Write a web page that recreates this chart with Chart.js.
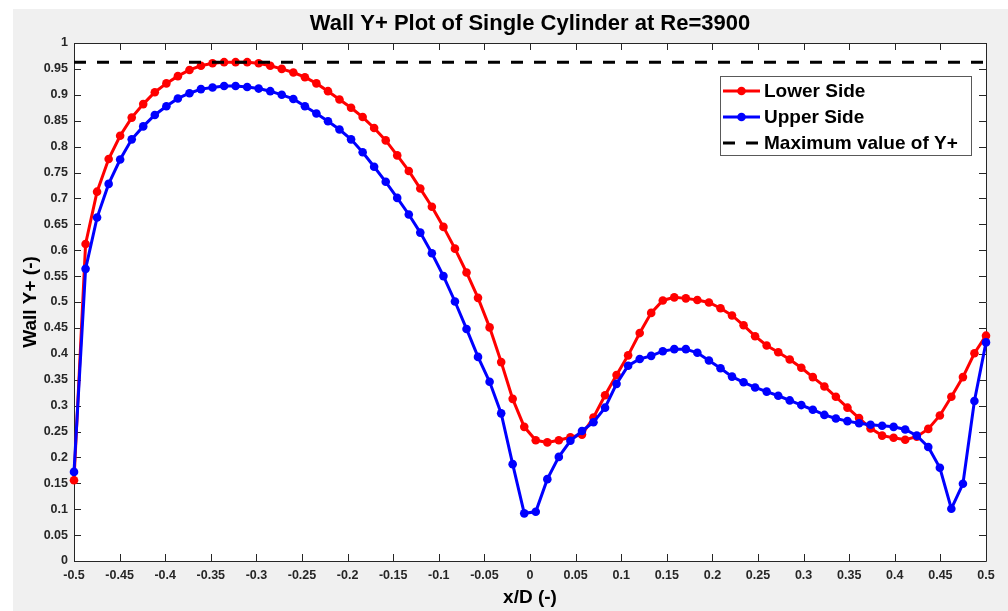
<!DOCTYPE html>
<html lang="en">
<head>
    <meta charset="UTF-8">
    <title>Wall Y+ Plot of Single Cylinder</title>
    <script src="https://cdn.jsdelivr.net/npm/chart.js"></script>
    <style>
        body {
            margin: 0;
            background: #ffffff;
        }

        .figure {
            position: absolute;
            left: 13px;
            top: 9px;
            width: 995px;
            height: 602px;
            background: #f0f0f0;
        }
    </style>
</head>
<body>
    <div class="figure">
        <canvas id="wallChart" width="995" height="602"></canvas>
    </div>
    <script>
        // x/D positions of the wall cells (80 points)
        const xOverD = [
            -0.5, -0.4873, -0.4747, -0.4620, -0.4494, -0.4367, -0.4241, -0.4114, -0.3987, -0.3861,
            -0.3734, -0.3608, -0.3481, -0.3354, -0.3228, -0.3101, -0.2975, -0.2848, -0.2722, -0.2595,
            -0.2468, -0.2342, -0.2215, -0.2089, -0.1962, -0.1835, -0.1709, -0.1582, -0.1456, -0.1329,
            -0.1203, -0.1076, -0.0949, -0.0823, -0.0696, -0.0570, -0.0443, -0.0316, -0.0190, -0.0063,
            0.0063, 0.0190, 0.0316, 0.0443, 0.0570, 0.0696, 0.0823, 0.0949, 0.1076, 0.1203,
            0.1329, 0.1456, 0.1582, 0.1709, 0.1835, 0.1962, 0.2089, 0.2215, 0.2342, 0.2468,
            0.2595, 0.2722, 0.2848, 0.2975, 0.3101, 0.3228, 0.3354, 0.3481, 0.3608, 0.3734,
            0.3861, 0.3987, 0.4114, 0.4241, 0.4367, 0.4494, 0.4620, 0.4747, 0.4873, 0.5
        ];

        const lowerSide = [
            0.156, 0.612, 0.713, 0.776, 0.821, 0.856, 0.882, 0.905, 0.922, 0.936,
            0.948, 0.956, 0.961, 0.963, 0.963, 0.963, 0.961, 0.956, 0.950, 0.943,
            0.934, 0.922, 0.907, 0.891, 0.875, 0.857, 0.836, 0.812, 0.783, 0.753,
            0.719, 0.684, 0.645, 0.603, 0.557, 0.508, 0.451, 0.384, 0.313, 0.259,
            0.233, 0.229, 0.233, 0.239, 0.244, 0.277, 0.320, 0.359, 0.397, 0.440,
            0.479, 0.503, 0.509, 0.507, 0.504, 0.499, 0.488, 0.474, 0.455, 0.434,
            0.416, 0.403, 0.389, 0.373, 0.355, 0.337, 0.317, 0.296, 0.276, 0.256,
            0.242, 0.238, 0.234, 0.240, 0.255, 0.281, 0.317, 0.355, 0.401, 0.435
        ];

        const upperSide = [
            0.172, 0.564, 0.663, 0.728, 0.775, 0.814, 0.839, 0.861, 0.878, 0.893,
            0.903, 0.911, 0.914, 0.917, 0.917, 0.915, 0.912, 0.907, 0.900, 0.892,
            0.878, 0.864, 0.849, 0.833, 0.814, 0.789, 0.761, 0.732, 0.701, 0.669,
            0.634, 0.594, 0.550, 0.501, 0.448, 0.394, 0.346, 0.285, 0.187, 0.092,
            0.095, 0.158, 0.201, 0.232, 0.251, 0.268, 0.296, 0.342, 0.377, 0.390,
            0.396, 0.405, 0.409, 0.409, 0.402, 0.387, 0.372, 0.356, 0.345, 0.335,
            0.327, 0.319, 0.310, 0.301, 0.292, 0.282, 0.275, 0.270, 0.266, 0.263,
            0.261, 0.259, 0.254, 0.242, 0.220, 0.180, 0.101, 0.149, 0.309, 0.422
        ];

        const maxYPlus = 0.963;

        const xTicks = [-0.5, -0.45, -0.4, -0.35, -0.3, -0.25, -0.2, -0.15, -0.1, -0.05, 0,
                        0.05, 0.1, 0.15, 0.2, 0.25, 0.3, 0.35, 0.4, 0.45, 0.5];
        const yTicks = [0, 0.05, 0.1, 0.15, 0.2, 0.25, 0.3, 0.35, 0.4, 0.45, 0.5,
                        0.55, 0.6, 0.65, 0.7, 0.75, 0.8, 0.85, 0.9, 0.95, 1];

        const axisColor = '#262626';
        Chart.defaults.font.family = '"Liberation Sans", Arial, Helvetica, sans-serif';

        function toPoints(xs, ys) {
            return xs.map((x, i) => ({ x: x, y: ys[i] }));
        }

        // white plot area, MATLAB style box with inward ticks on all four sides
        const axesBox = {
            id: 'axesBox',
            beforeDraw(chart) {
                const { ctx, chartArea: a } = chart;
                ctx.save();
                ctx.fillStyle = '#ffffff';
                ctx.fillRect(a.left, a.top, a.right - a.left, a.bottom - a.top);
                ctx.restore();
            },
            beforeDatasetsDraw(chart) {
                const { ctx, chartArea: a, scales } = chart;
                const len = 7;
                ctx.save();
                ctx.strokeStyle = axisColor;
                ctx.lineWidth = 1;
                ctx.beginPath();
                scales.x.ticks.forEach(t => {
                    const px = Math.round(scales.x.getPixelForValue(t.value)) + 0.5;
                    ctx.moveTo(px, a.bottom);
                    ctx.lineTo(px, a.bottom - len);
                    ctx.moveTo(px, a.top);
                    ctx.lineTo(px, a.top + len);
                });
                scales.y.ticks.forEach(t => {
                    const py = Math.round(scales.y.getPixelForValue(t.value)) + 0.5;
                    ctx.moveTo(a.left, py);
                    ctx.lineTo(a.left + len, py);
                    ctx.moveTo(a.right, py);
                    ctx.lineTo(a.right - len, py);
                });
                ctx.rect(Math.round(a.left) + 0.5, Math.round(a.top) + 0.5,
                         Math.round(a.right - a.left), Math.round(a.bottom - a.top));
                ctx.stroke();
                ctx.restore();
            }
        };

        // boxed legend inside the top right corner of the axes
        const boxLegend = {
            id: 'boxLegend',
            afterDraw(chart) {
                const { ctx, chartArea: a } = chart;
                const w = 251, h = 79;
                const left = Math.round(a.right - 15 - w);
                const top = Math.round(a.top + 33);
                ctx.save();
                ctx.fillStyle = '#ffffff';
                ctx.fillRect(left, top, w, h);
                ctx.strokeStyle = '#595959';
                ctx.lineWidth = 1;
                ctx.strokeRect(left + 0.5, top + 0.5, w, h);
                ctx.font = 'bold 19px "Liberation Sans", Arial, sans-serif';
                ctx.textBaseline = 'middle';
                chart.data.datasets.forEach((ds, i) => {
                    const y = top + 15 + i * 26;
                    ctx.strokeStyle = ds.borderColor;
                    ctx.lineWidth = ds.borderWidth;
                    ctx.setLineDash(ds.borderDash || []);
                    ctx.beginPath();
                    ctx.moveTo(left + 3, y);
                    ctx.lineTo(left + 40, y);
                    ctx.stroke();
                    ctx.setLineDash([]);
                    if (ds.pointRadius > 0) {
                        ctx.fillStyle = ds.pointBackgroundColor;
                        ctx.beginPath();
                        ctx.arc(left + 21.5, y, ds.pointRadius, 0, Math.PI * 2);
                        ctx.fill();
                    }
                    ctx.fillStyle = '#000000';
                    ctx.fillText(ds.label, left + 44, y + 1);
                });
                ctx.restore();
            }
        };

        new Chart(document.getElementById('wallChart'), {
            type: 'scatter',
            data: {
                datasets: [
                    {
                        label: 'Lower Side',
                        data: toPoints(xOverD, lowerSide),
                        showLine: true,
                        borderColor: '#ff0000',
                        backgroundColor: '#ff0000',
                        pointBackgroundColor: '#ff0000',
                        borderWidth: 3,
                        pointRadius: 4.3,
                        pointBorderWidth: 0,
                        clip: false,
                        order: 3
                    },
                    {
                        label: 'Upper Side',
                        data: toPoints(xOverD, upperSide),
                        showLine: true,
                        borderColor: '#0000ff',
                        backgroundColor: '#0000ff',
                        pointBackgroundColor: '#0000ff',
                        borderWidth: 3,
                        pointRadius: 4.3,
                        pointBorderWidth: 0,
                        clip: false,
                        order: 2
                    },
                    {
                        label: 'Maximum value of Y+',
                        data: [{ x: xTicks[0], y: maxYPlus }, { x: xTicks[xTicks.length - 1], y: maxYPlus }],
                        showLine: true,
                        borderColor: '#000000',
                        borderWidth: 3,
                        borderDash: [12, 11],
                        pointRadius: 0,
                        order: 1
                    }
                ]
            },
            options: {
                responsive: false,
                animation: false,
                devicePixelRatio: 1,
                layout: { padding: { left: 0, right: 22, top: 0, bottom: 0 } },
                scales: {
                    x: {
                        type: 'linear',
                        min: -0.5,
                        max: 0.5,
                        afterBuildTicks: s => { s.ticks = xTicks.map(v => ({ value: v })); },
                        afterFit: s => { s.height = 50; },
                        grid: { display: false, drawTicks: false },
                        border: { display: false },
                        ticks: {
                            autoSkip: false,
                            maxRotation: 0,
                            padding: 7,
                            color: axisColor,
                            font: { size: 12.5, weight: 'bold' },
                            callback: v => String(+v.toFixed(2))
                        },
                        title: {
                            display: true,
                            text: 'x/D (-)',
                            color: '#000000',
                            font: { size: 19, weight: 'bold' },
                            padding: { top: 0, bottom: 2 }
                        }
                    },
                    y: {
                        min: 0,
                        max: 1,
                        afterBuildTicks: s => { s.ticks = yTicks.map(v => ({ value: v })); },
                        afterFit: s => { s.width = 61; },
                        grid: { display: false, drawTicks: false },
                        border: { display: false },
                        ticks: {
                            autoSkip: false,
                            padding: 6,
                            color: axisColor,
                            font: { size: 12.5, weight: 'bold' },
                            callback: v => String(+v.toFixed(2))
                        },
                        title: {
                            display: true,
                            text: 'Wall Y+ (-)',
                            color: '#000000',
                            font: { size: 19, weight: 'bold' },
                            padding: { top: 6, bottom: 0 }
                        }
                    }
                },
                plugins: {
                    legend: { display: false },
                    tooltip: { enabled: false },
                    title: {
                        display: true,
                        fullSize: false,
                        text: 'Wall Y+ Plot of Single Cylinder at Re=3900',
                        color: '#000000',
                        font: { size: 22, weight: 'bold' },
                        padding: { top: 2, bottom: 5.6 }
                    }
                }
            },
            plugins: [axesBox, boxLegend]
        });
    </script>
</body>
</html>
